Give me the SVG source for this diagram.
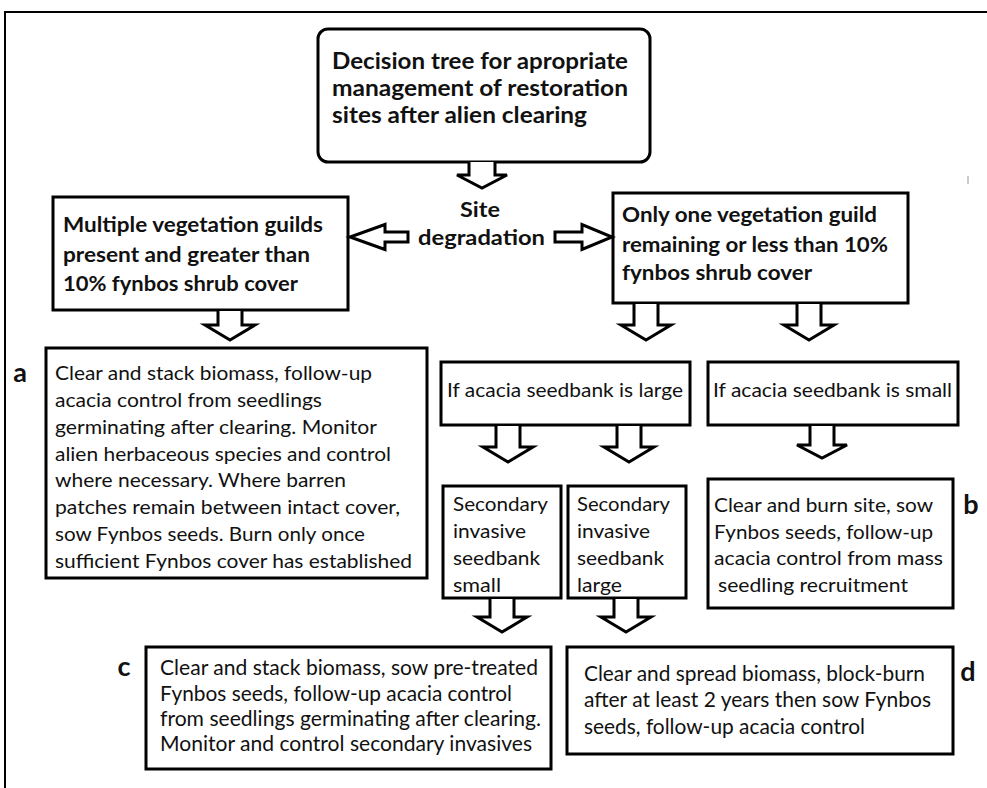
<svg xmlns="http://www.w3.org/2000/svg" width="987" height="788" viewBox="0 0 987 788">
<style>
.box{fill:#fff;stroke:#000;stroke-width:3}
.arr{fill:#fff;stroke:#000;stroke-width:3;stroke-linejoin:miter}
.tb{font-family:Lato,"Liberation Sans",sans-serif;font-weight:bold;font-size:23px;fill:#111}
.sb{font-family:Lato,"Liberation Sans",sans-serif;font-weight:bold;font-size:21px;fill:#111}
.tr{font-family:Lato,"Liberation Sans",sans-serif;font-size:20px;fill:#111}
.tc{font-family:Lato,"Liberation Sans",sans-serif;font-size:21px;fill:#111}
.lab{font-family:Lato,"Liberation Sans",sans-serif;font-weight:bold;font-size:27px;fill:#111}
</style>
<rect width="987" height="788" fill="#fff"/>
<path d="M5,790 V12 H990" fill="none" stroke="#000" stroke-width="2"/>
<line x1="968" y1="176" x2="968" y2="184" stroke="#999" stroke-width="1"/>

<g id="title">
<rect class="box" x="318" y="29" width="332" height="133" rx="10"/>
<text class="tb" x="332" y="69" textLength="296" lengthAdjust="spacingAndGlyphs">Decision tree for apropriate</text>
<text class="tb" x="332" y="96" textLength="296" lengthAdjust="spacingAndGlyphs">management of restoration</text>
<text class="tb" x="332" y="123" textLength="255" lengthAdjust="spacingAndGlyphs">sites after alien clearing</text>
</g>

<g id="site">
<text class="sb" x="480" y="217" text-anchor="middle" textLength="40" lengthAdjust="spacingAndGlyphs">Site</text>
<text class="sb" x="418" y="245" textLength="127" lengthAdjust="spacingAndGlyphs">degradation</text>
</g>

<g id="multiple">
<rect class="box" x="53" y="197" width="295" height="113"/>
<text class="sb" x="63" y="232" textLength="260" lengthAdjust="spacingAndGlyphs">Multiple vegetation guilds</text>
<text class="sb" x="63" y="262" textLength="247" lengthAdjust="spacingAndGlyphs">present and greater than</text>
<text class="sb" x="63" y="291" textLength="235" lengthAdjust="spacingAndGlyphs">10% fynbos shrub cover</text>
</g>

<g id="onlyone">
<rect class="box" x="613" y="193" width="295" height="110"/>
<text class="sb" x="622" y="222" textLength="255" lengthAdjust="spacingAndGlyphs">Only one vegetation guild</text>
<text class="sb" x="622" y="252" textLength="266" lengthAdjust="spacingAndGlyphs">remaining or less than 10%</text>
<text class="sb" x="622" y="280" textLength="190" lengthAdjust="spacingAndGlyphs">fynbos shrub cover</text>
</g>

<g id="boxA">
<rect class="box" x="46" y="348" width="381" height="230"/>
<text class="tr" x="55" y="380" textLength="317" lengthAdjust="spacingAndGlyphs">Clear and stack biomass, follow-up</text>
<text class="tr" x="55" y="407" textLength="267" lengthAdjust="spacingAndGlyphs">acacia control from seedlings</text>
<text class="tr" x="55" y="434" textLength="322" lengthAdjust="spacingAndGlyphs">germinating after clearing. Monitor</text>
<text class="tr" x="55" y="461" textLength="336" lengthAdjust="spacingAndGlyphs">alien herbaceous species and control</text>
<text class="tr" x="55" y="487" textLength="291" lengthAdjust="spacingAndGlyphs">where necessary. Where barren</text>
<text class="tr" x="55" y="514" textLength="345" lengthAdjust="spacingAndGlyphs">patches remain between intact cover,</text>
<text class="tr" x="55" y="541" textLength="310" lengthAdjust="spacingAndGlyphs">sow Fynbos seeds. Burn only once</text>
<text class="tr" x="55" y="568" textLength="357" lengthAdjust="spacingAndGlyphs">sufficient Fynbos cover has established</text>
<text class="lab" x="20" y="382" text-anchor="middle">a</text>
</g>

<g id="large">
<rect class="box" x="441" y="362" width="249" height="63"/>
<text class="tr" x="447" y="397" textLength="236" lengthAdjust="spacingAndGlyphs">If acacia seedbank is large</text>
</g>

<g id="small">
<rect class="box" x="708" y="362" width="250" height="63"/>
<text class="tr" x="713" y="397" textLength="239" lengthAdjust="spacingAndGlyphs">If acacia seedbank is small</text>
</g>

<g id="secSmall">
<rect class="box" x="443" y="486" width="118" height="112"/>
<text class="tr" x="453" y="511" textLength="95" lengthAdjust="spacingAndGlyphs">Secondary</text>
<text class="tr" x="453" y="538" textLength="73" lengthAdjust="spacingAndGlyphs">invasive</text>
<text class="tr" x="453" y="565" textLength="87" lengthAdjust="spacingAndGlyphs">seedbank</text>
<text class="tr" x="453" y="592" textLength="48" lengthAdjust="spacingAndGlyphs">small</text>
</g>

<g id="secLarge">
<rect class="box" x="568" y="486" width="118" height="112"/>
<text class="tr" x="577" y="511" textLength="93" lengthAdjust="spacingAndGlyphs">Secondary</text>
<text class="tr" x="577" y="538" textLength="73" lengthAdjust="spacingAndGlyphs">invasive</text>
<text class="tr" x="577" y="565" textLength="87" lengthAdjust="spacingAndGlyphs">seedbank</text>
<text class="tr" x="577" y="592" textLength="45" lengthAdjust="spacingAndGlyphs">large</text>
</g>

<g id="boxB">
<rect class="box" x="708" y="479" width="245" height="129"/>
<text class="tr" x="714" y="512" textLength="219" lengthAdjust="spacingAndGlyphs">Clear and burn site, sow</text>
<text class="tr" x="714" y="539" textLength="219" lengthAdjust="spacingAndGlyphs">Fynbos seeds, follow-up</text>
<text class="tr" x="714" y="565" textLength="229" lengthAdjust="spacingAndGlyphs">acacia control from mass</text>
<text class="tr" x="718" y="592" textLength="190" lengthAdjust="spacingAndGlyphs">seedling recruitment</text>
<text class="lab" x="971" y="514" text-anchor="middle">b</text>
</g>

<g id="boxC">
<rect class="box" x="146" y="647" width="405" height="122"/>
<text class="tc" x="160" y="675" textLength="378" lengthAdjust="spacingAndGlyphs">Clear and stack biomass, sow pre-treated</text>
<text class="tc" x="160" y="701" textLength="352" lengthAdjust="spacingAndGlyphs">Fynbos seeds, follow-up acacia control</text>
<text class="tc" x="160" y="726" textLength="381" lengthAdjust="spacingAndGlyphs">from seedlings germinating after clearing.</text>
<text class="tc" x="160" y="751" textLength="372" lengthAdjust="spacingAndGlyphs">Monitor and control secondary invasives</text>
<text class="lab" x="124" y="676" text-anchor="middle">c</text>
</g>

<g id="boxD">
<rect class="box" x="567" y="647" width="386" height="107"/>
<text class="tc" x="584" y="681" textLength="341" lengthAdjust="spacingAndGlyphs">Clear and spread biomass, block-burn</text>
<text class="tc" x="584" y="707" textLength="347" lengthAdjust="spacingAndGlyphs">after at least 2 years then sow Fynbos</text>
<text class="tc" x="584" y="734" textLength="281" lengthAdjust="spacingAndGlyphs">seeds, follow-up acacia control</text>
<text class="lab" x="968" y="681" text-anchor="middle">d</text>
</g>

<g id="connectors">
<path class="arr" d="M469,162 V175 H457 L482,188 L507,175 H495 V162"/>
<path class="arr" d="M408,232 H385 V224.5 L350,237 L385,249.5 V242 H408 Z"/>
<path class="arr" d="M555,232 H582 V224.5 L612,237 L582,249.5 V242 H555 Z"/>
<path class="arr" d="M218,311 V325 H205 L230,340 L255,325 H242 V311"/>
<path class="arr" d="M634,304 V325 H621 L646,340 L671,325 H658 V304"/>
<path class="arr" d="M797,304 V325 H784 L809,340 L834,325 H821 V304"/>
<path class="arr" d="M496,426 V447 H483 L508,462 L533,447 H520 V426"/>
<path class="arr" d="M617,426 V447 H604 L629,462 L654,447 H641 V426"/>
<path class="arr" d="M810,426 V445 H797 L822,458 L847,445 H834 V426"/>
<path class="arr" d="M490,599 V617 H477 L502,632 L527,617 H514 V599"/>
<path class="arr" d="M614,599 V617 H601 L626,632 L651,617 H638 V599"/>
</g>
</svg>
